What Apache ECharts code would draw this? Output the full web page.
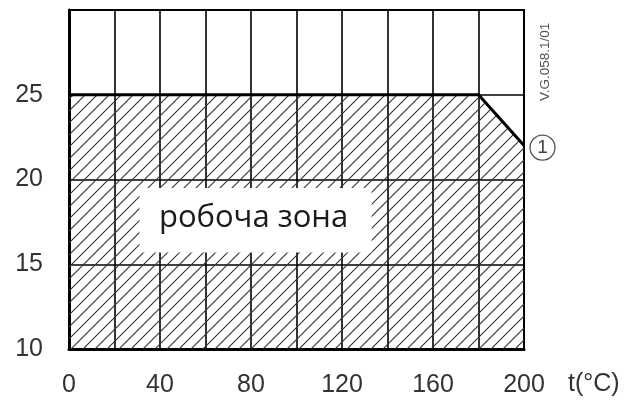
<!DOCTYPE html>
<html>
<head>
<meta charset="utf-8">
<script src="https://cdn.jsdelivr.net/npm/echarts@6/dist/echarts.min.js"></script>
<style>
  html, body { margin: 0; padding: 0; background: #fff; }
  #chart { width: 630px; height: 400px; }
</style>
</head>
<body>
<div id="chart"></div>
<script>
// Temperature points (°C) and the working-limit curve
const tempC = [0, 180, 200];
const limitVal = [25, 25, 22];
// Axis ranges
const xRange = [0, 200];
const yRange = [10, 30];
// White label box in data units: [x0, x1], [y0, y1]
const zoneX = [31, 133];
const zoneY = [15.7, 19.5];
const zoneText = 'робоча зона';
const markText = '1';
const docCode = 'V.G.058.1/01';

// diagonal hatch pattern
const hatch = document.createElement('canvas');
hatch.width = 12;
hatch.height = 12;
const hctx = hatch.getContext('2d');
hctx.strokeStyle = '#333';
hctx.lineWidth = 1.1;
hctx.beginPath();
hctx.moveTo(0, 12); hctx.lineTo(12, 0);
hctx.moveTo(-6, 6); hctx.lineTo(6, -6);
hctx.moveTo(6, 18); hctx.lineTo(18, 6);
hctx.stroke();

const chart = echarts.init(document.getElementById('chart'));

const lineData = tempC.map((t, i) => {
    const p = { value: [t, limitVal[i]] };
    if (i === tempC.length - 1) {
        p.label = {
            show: true,
            position: 'right',
            distance: 6,
            offset: [0, 2],
            formatter: '{c|' + markText + '}',
            rich: {
                c: {
                    width: 25,
                    height: 25,
                    lineHeight: 25,
                    align: 'center',
                    fontSize: 19,
                    fontFamily: 'Liberation Sans',
                    color: '#444',
                    borderColor: '#555',
                    borderWidth: 1.3,
                    borderRadius: 13
                }
            }
        };
    }
    return p;
});

const option = {
    animation: false,
    grid: {
        left: 69, right: 106, top: 10, bottom: 51,
        show: true, borderColor: '#000', borderWidth: 2
    },
    xAxis: {
        type: 'value',
        min: xRange[0], max: xRange[1], interval: 20,
        axisLine: { show: true, lineStyle: { color: '#000', width: 3 } },
        axisTick: { show: false },
        axisLabel: {
            margin: 24,
            fontSize: 25,
            fontFamily: 'Liberation Sans',
            color: '#333',
            formatter: v => (v % 40 === 0 ? String(v) : '')
        },
        splitLine: { show: true, lineStyle: { color: '#000', width: 1.6 } }
    },
    yAxis: {
        type: 'value',
        min: yRange[0], max: yRange[1], interval: 5,
        axisLine: { show: true, lineStyle: { color: '#000', width: 3 } },
        axisTick: { show: false },
        axisLabel: {
            margin: 26,
            fontSize: 25,
            fontFamily: 'Liberation Sans',
            color: '#333',
            formatter: v => (v === yRange[1] ? '' : String(v))
        },
        splitLine: { show: true, lineStyle: { color: '#000', width: 1.6 } }
    },
    series: [
        {
            type: 'line',
            data: lineData,
            symbol: 'circle',
            symbolSize: 0,
            showAllSymbol: true,
            lineStyle: { color: '#000', width: 3 },
            itemStyle: { color: '#000' },
            areaStyle: { origin: 'start', color: { image: hatch, repeat: 'repeat' }, opacity: 1 },
            z: 2
        },
        {
            type: 'custom',
            z: 5,
            data: [[zoneX[0], zoneX[1], zoneY[0], zoneY[1]]],
            renderItem: (params, api) => {
                const p0 = api.coord([api.value(0), api.value(3)]);
                const p1 = api.coord([api.value(1), api.value(2)]);
                return {
                    type: 'group',
                    children: [
                        {
                            type: 'rect',
                            shape: { x: p0[0], y: p0[1], width: p1[0] - p0[0], height: p1[1] - p0[1] },
                            style: { fill: '#fff' }
                        },
                        {
                            type: 'text',
                            x: (p0[0] + p1[0]) / 2 - 2,
                            y: (p0[1] + p1[1]) / 2 - 2,
                            style: {
                                text: zoneText,
                                fill: '#1a1a1a',
                                fontSize: 31,
                                fontFamily: 'Open Sans',
                                align: 'center',
                                verticalAlign: 'middle'
                            }
                        }
                    ]
                };
            }
        }
    ],
    graphic: [
        {
            type: 'text',
            left: 568, top: 372,
            style: { text: 't(°C)', fontSize: 25, fontFamily: 'Liberation Sans', fill: '#333' }
        },
        {
            type: 'text',
            x: 538, y: 101,
            rotation: Math.PI / 2,
            style: { text: docCode, fontSize: 13.5, fontFamily: 'Liberation Sans', fill: '#555' }
        }
    ]
};

chart.setOption(option);
window.addEventListener('resize', () => {
    chart.resize();
});
</script>
</body>
</html>
